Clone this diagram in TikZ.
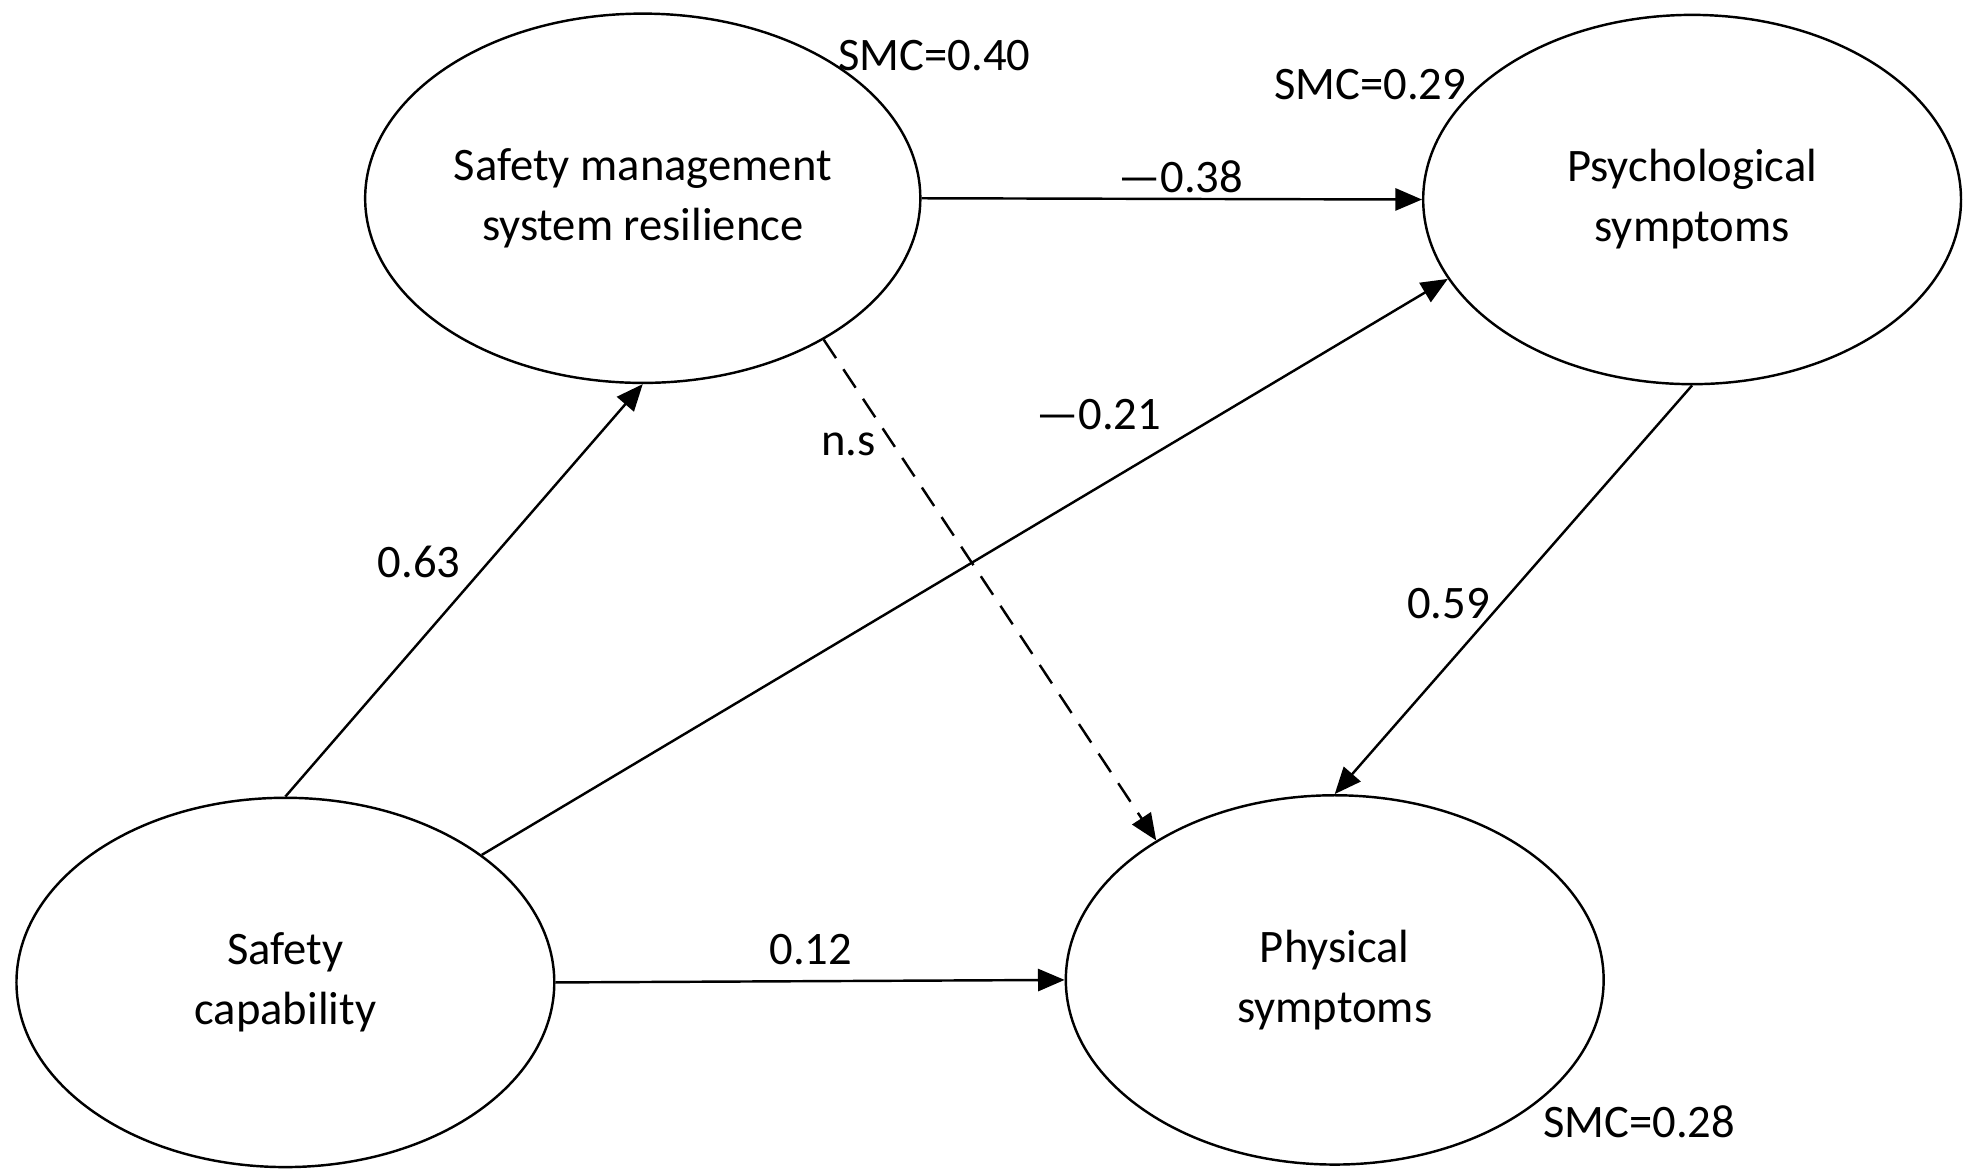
\documentclass[tikz,border=0pt]{standalone}
\usepackage{fontspec}
\setmainfont{Carlito}
\usetikzlibrary{shapes.geometric,arrows.meta}
\begin{document}
\begin{tikzpicture}[x=0.02cm,y=-0.02cm,
  lat/.style={ellipse,draw,line width=1.1pt,minimum width=8.52cm,minimum height=5.85cm,align=center,font=\fontsize{21}{27}\selectfont},
  arr/.style={line width=1.1pt,-{Triangle[length=12pt,width=10pt]}},
  lbl/.style={font=\fontsize{21}{24}\selectfont}]
\useasboundingbox (0,0) rectangle (1568,931);
\node[lat] (sms) at (509,157) {Safety management\\system resilience};
\node[lat] (psy) at (1340,158) {Psychological\\symptoms};
\node[lat] (sc) at (226,778) {Safety\\capability};
\node[lat] (phy) at (1057,776) {Physical\\symptoms};
\draw[arr] (sc.north) -- (sms.south);
\draw[arr] (sc.33) -- (psy.198);
\draw[arr] (sc.east) -- (phy.west);
\draw[arr] (sms.east) -- (psy.west);
\draw[arr,dashed,dash pattern=on 10pt off 6pt] (sms.-38) -- (phy.142);
\draw[arr] (psy.south) -- (phy.north);
\node[lbl] (s1) at (740,44) {SMC=0.40};
\node[lbl] (s2) at (1085,67) {SMC=0.29};
\node[lbl] (s3) at (1298,888) {SMC=0.28};
\node[lbl] (l1) at (935,140) {—0.38};
\node[lbl] (l2) at (672,352) {n.s};
\node[lbl] (l3) at (870,328) {—0.21};
\node[lbl] (l4) at (332,445) {0.63};
\node[lbl] (l5) at (1147,478) {0.59};
\node[lbl] (l6) at (642,752) {0.12};
\end{tikzpicture}
\end{document}
